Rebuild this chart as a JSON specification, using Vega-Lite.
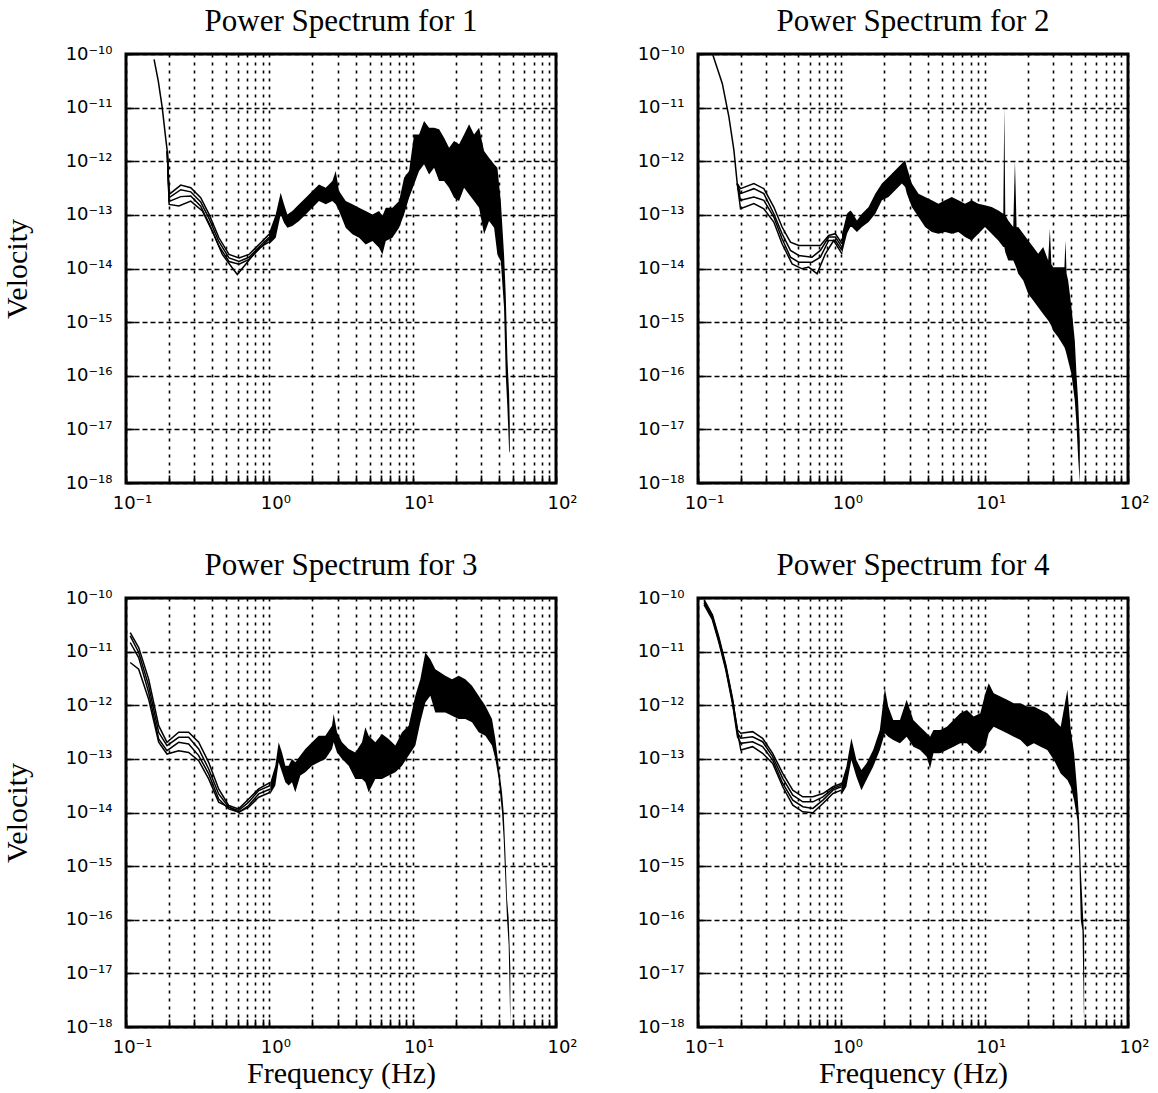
{
"$schema": "https://vega.github.io/schema/vega-lite/v6.json",
"padding": {"left": 0, "top": 4, "right": 5, "bottom": 3},
"background": "white",
"datasets": {
"d": [
{"p":1,"s":"a","f":0.157,"v":7.96e-11},{"p":1,"s":"a","f":0.168,"v":3.13e-11},{"p":1,"s":"a","f":0.179,"v":1.0e-11},{"p":1,"s":"a","f":0.189,"v":2.75e-12},{"p":1,"s":"a","f":0.194,"v":1.55e-12},
{"p":1,"s":"a","f":0.2,"v":2.41e-13},{"p":1,"s":"a","f":0.241,"v":3.60e-13},{"p":1,"s":"a","f":0.283,"v":3.21e-13},{"p":1,"s":"a","f":0.332,"v":2.09e-13},{"p":1,"s":"a","f":0.38,"v":1.02e-13},{"p":1,"s":"a","f":0.445,"v":3.74e-14},{"p":1,"s":"a","f":0.523,"v":1.83e-14},{"p":1,"s":"a","f":0.615,"v":1.58e-14},{"p":1,"s":"a","f":0.721,"v":1.83e-14},{"p":1,"s":"a","f":0.847,"v":2.81e-14},{"p":1,"s":"a","f":0.995,"v":4.33e-14},
{"p":1,"s":"b","f":0.194,"v":1.55e-12},{"p":1,"s":"b","f":0.2,"v":2.09e-13},{"p":1,"s":"b","f":0.241,"v":2.95e-13},{"p":1,"s":"b","f":0.283,"v":2.69e-13},{"p":1,"s":"b","f":0.332,"v":1.74e-13},{"p":1,"s":"b","f":0.38,"v":8.51e-14},{"p":1,"s":"b","f":0.445,"v":3.16e-14},{"p":1,"s":"b","f":0.523,"v":1.58e-14},{"p":1,"s":"b","f":0.615,"v":1.35e-14},{"p":1,"s":"b","f":0.721,"v":1.62e-14},{"p":1,"s":"b","f":0.847,"v":2.51e-14},{"p":1,"s":"b","f":0.995,"v":3.80e-14},
{"p":1,"s":"c","f":0.194,"v":1.55e-12},{"p":1,"s":"c","f":0.2,"v":1.78e-13},{"p":1,"s":"c","f":0.241,"v":2.19e-13},{"p":1,"s":"c","f":0.283,"v":2.24e-13},{"p":1,"s":"c","f":0.332,"v":1.45e-13},{"p":1,"s":"c","f":0.38,"v":6.92e-14},{"p":1,"s":"c","f":0.445,"v":2.63e-14},{"p":1,"s":"c","f":0.523,"v":1.35e-14},{"p":1,"s":"c","f":0.615,"v":1.20e-14},{"p":1,"s":"c","f":0.721,"v":1.48e-14},{"p":1,"s":"c","f":0.847,"v":2.29e-14},{"p":1,"s":"c","f":0.995,"v":3.55e-14},
{"p":1,"s":"d","f":0.194,"v":1.55e-12},{"p":1,"s":"d","f":0.2,"v":1.57e-13},{"p":1,"s":"d","f":0.234,"v":1.46e-13},{"p":1,"s":"d","f":0.283,"v":1.81e-13},{"p":1,"s":"d","f":0.341,"v":1.18e-13},{"p":1,"s":"d","f":0.40,"v":4.99e-14},{"p":1,"s":"d","f":0.47,"v":1.83e-14},{"p":1,"s":"d","f":0.552,"v":1.02e-14},{"p":1,"s":"d","f":0.598,"v":7.74e-15},{"p":1,"s":"d","f":0.684,"v":1.20e-14},{"p":1,"s":"d","f":0.847,"v":2.44e-14},{"p":1,"s":"d","f":1.02,"v":3.24e-14},
{"p":1,"s":"band","f":0.995,"v":4.65e-14,"v2":2.81e-14},{"p":1,"s":"band","f":1.108,"v":1.02e-13,"v2":3.74e-14},{"p":1,"s":"band","f":1.20,"v":2.59e-13,"v2":1.02e-13},{"p":1,"s":"band","f":1.266,"v":1.57e-13,"v2":7.13e-14},{"p":1,"s":"band","f":1.336,"v":1.02e-13,"v2":5.75e-14},{"p":1,"s":"band","f":1.447,"v":1.18e-13,"v2":6.18e-14},{"p":1,"s":"band","f":1.612,"v":1.57e-13,"v2":7.66e-14},{"p":1,"s":"band","f":1.794,"v":2.09e-13,"v2":1.02e-13},{"p":1,"s":"band","f":1.997,"v":2.78e-13,"v2":1.36e-13},{"p":1,"s":"band","f":2.22,"v":3.70e-13,"v2":1.81e-13},{"p":1,"s":"band","f":2.474,"v":3.21e-13,"v2":1.57e-13},{"p":1,"s":"band","f":2.754,"v":4.28e-13,"v2":1.81e-13},{"p":1,"s":"band","f":2.905,"v":6.56e-13,"v2":1.57e-13},{"p":1,"s":"band","f":3.064,"v":2.78e-13,"v2":1.18e-13},{"p":1,"s":"band","f":3.41,"v":1.81e-13,"v2":5.75e-14},{"p":1,"s":"band","f":3.80,"v":1.57e-13,"v2":4.33e-14},{"p":1,"s":"band","f":4.23,"v":1.36e-13,"v2":3.74e-14},{"p":1,"s":"band","f":4.70,"v":1.18e-13,"v2":2.81e-14},{"p":1,"s":"band","f":5.24,"v":1.02e-13,"v2":3.24e-14},{"p":1,"s":"band","f":5.83,"v":1.18e-13,"v2":2.44e-14},{"p":1,"s":"band","f":6.15,"v":9.55e-14,"v2":1.83e-14},{"p":1,"s":"band","f":6.49,"v":1.36e-13,"v2":3.24e-14},{"p":1,"s":"band","f":7.22,"v":1.36e-13,"v2":3.74e-14},{"p":1,"s":"band","f":8.04,"v":1.81e-13,"v2":5.75e-14},{"p":1,"s":"band","f":8.71,"v":4.93e-13,"v2":1.02e-13},{"p":1,"s":"band","f":9.44,"v":6.56e-13,"v2":2.09e-13},{"p":1,"s":"band","f":10.23,"v":3.17e-12,"v2":3.70e-13},{"p":1,"s":"band","f":11.08,"v":3.17e-12,"v2":6.56e-13},{"p":1,"s":"band","f":12.01,"v":5.62e-12,"v2":8.75e-13},{"p":1,"s":"band","f":13.02,"v":4.23e-12,"v2":5.69e-13},{"p":1,"s":"band","f":14.11,"v":4.23e-12,"v2":7.57e-13},{"p":1,"s":"band","f":15.29,"v":3.94e-12,"v2":4.28e-13},{"p":1,"s":"band","f":16.56,"v":2.75e-12,"v2":4.28e-13},{"p":1,"s":"band","f":17.95,"v":1.79e-12,"v2":3.21e-13},{"p":1,"s":"band","f":19.45,"v":2.38e-12,"v2":2.09e-13},{"p":1,"s":"band","f":21.08,"v":2.07e-12,"v2":1.81e-13},{"p":1,"s":"band","f":22.84,"v":3.17e-12,"v2":3.21e-13},{"p":1,"s":"band","f":24.75,"v":4.88e-12,"v2":2.41e-13},{"p":1,"s":"band","f":26.82,"v":3.17e-12,"v2":1.81e-13},{"p":1,"s":"band","f":29.07,"v":4.23e-12,"v2":1.36e-13},{"p":1,"s":"band","f":31.5,"v":1.55e-12,"v2":4.33e-14},{"p":1,"s":"band","f":34.1,"v":1.16e-12,"v2":7.66e-14},{"p":1,"s":"band","f":37.0,"v":8.75e-13,"v2":5.75e-14},{"p":1,"s":"band","f":39.0,"v":7.57e-13,"v2":1.83e-14},{"p":1,"s":"band","f":41.2,"v":1.81e-13,"v2":1.37e-14},{"p":1,"s":"band","f":43.4,"v":1.83e-14,"v2":1.85e-15},{"p":1,"s":"band","f":44.6,"v":3.28e-15,"v2":1.06e-16},{"p":1,"s":"band","f":45.8,"v":2.16e-16,"v2":2.52e-17},{"p":1,"s":"band","f":47.1,"v":4.47e-17,"v2":3.92e-18},{"p":1,"s":"band","f":47.6,"v":1.23e-17,"v2":3.65e-18},

{"p":2,"s":"a","f":0.127,"v":9.57e-11},{"p":2,"s":"a","f":0.1477,"v":2.83e-11},{"p":2,"s":"a","f":0.1643,"v":6.75e-12},{"p":2,"s":"a","f":0.178,"v":1.61e-12},{"p":2,"s":"a","f":0.1878,"v":3.83e-13},
{"p":2,"s":"a","f":0.198,"v":3.08e-13},{"p":2,"s":"a","f":0.2454,"v":3.83e-13},{"p":2,"s":"a","f":0.288,"v":3.08e-13},{"p":2,"s":"a","f":0.338,"v":1.40e-13},{"p":2,"s":"a","f":0.386,"v":5.93e-14},{"p":2,"s":"a","f":0.4416,"v":3.10e-14},{"p":2,"s":"a","f":0.5047,"v":2.69e-14},{"p":2,"s":"a","f":0.6248,"v":2.69e-14},{"p":2,"s":"a","f":0.7142,"v":2.69e-14},{"p":2,"s":"a","f":0.8162,"v":4.14e-14},{"p":2,"s":"a","f":0.9083,"v":4.45e-14},{"p":2,"s":"a","f":1.011,"v":2.89e-14},
{"p":2,"s":"b","f":0.1878,"v":3.83e-13},{"p":2,"s":"b","f":0.198,"v":2.49e-13},{"p":2,"s":"b","f":0.2454,"v":3.08e-13},{"p":2,"s":"b","f":0.288,"v":2.49e-13},{"p":2,"s":"b","f":0.338,"v":1.05e-13},{"p":2,"s":"b","f":0.386,"v":4.45e-14},{"p":2,"s":"b","f":0.4416,"v":2.17e-14},{"p":2,"s":"b","f":0.5047,"v":1.75e-14},{"p":2,"s":"b","f":0.6248,"v":1.63e-14},{"p":2,"s":"b","f":0.7142,"v":2.17e-14},{"p":2,"s":"b","f":0.8162,"v":3.85e-14},{"p":2,"s":"b","f":0.9083,"v":3.85e-14},{"p":2,"s":"b","f":1.011,"v":2.51e-14},
{"p":2,"s":"c","f":0.1878,"v":3.83e-13},{"p":2,"s":"c","f":0.198,"v":1.87e-13},{"p":2,"s":"c","f":0.2454,"v":2.15e-13},{"p":2,"s":"c","f":0.288,"v":1.87e-13},{"p":2,"s":"c","f":0.338,"v":9.12e-14},{"p":2,"s":"c","f":0.386,"v":3.59e-14},{"p":2,"s":"c","f":0.4416,"v":1.63e-14},{"p":2,"s":"c","f":0.5047,"v":1.31e-14},{"p":2,"s":"c","f":0.6248,"v":1.31e-14},{"p":2,"s":"c","f":0.7142,"v":1.63e-14},{"p":2,"s":"c","f":0.8162,"v":3.33e-14},{"p":2,"s":"c","f":0.9083,"v":3.33e-14},{"p":2,"s":"c","f":1.011,"v":2.17e-14},
{"p":2,"s":"d","f":0.1878,"v":3.83e-13},{"p":2,"s":"d","f":0.198,"v":1.30e-13},{"p":2,"s":"d","f":0.2454,"v":1.62e-13},{"p":2,"s":"d","f":0.288,"v":1.30e-13},{"p":2,"s":"d","f":0.338,"v":7.35e-14},{"p":2,"s":"d","f":0.386,"v":2.89e-14},{"p":2,"s":"d","f":0.4535,"v":1.22e-14},{"p":2,"s":"d","f":0.5324,"v":9.86e-15},{"p":2,"s":"d","f":0.5923,"v":1.06e-14},{"p":2,"s":"d","f":0.677,"v":7.94e-15},{"p":2,"s":"d","f":0.7738,"v":1.88e-14},{"p":2,"s":"d","f":0.8842,"v":3.33e-14},{"p":2,"s":"d","f":1.011,"v":1.88e-14},
{"p":2,"s":"band","f":1.011,"v":4.45e-14,"v2":1.88e-14},{"p":2,"s":"band","f":1.095,"v":1.05e-13,"v2":4.45e-14},{"p":2,"s":"band","f":1.155,"v":1.21e-13,"v2":5.93e-14},{"p":2,"s":"band","f":1.186,"v":1.13e-13,"v2":5.93e-14},{"p":2,"s":"band","f":1.285,"v":7.89e-14,"v2":4.78e-14},{"p":2,"s":"band","f":1.393,"v":1.05e-13,"v2":5.93e-14},{"p":2,"s":"band","f":1.55,"v":1.40e-13,"v2":7.35e-14},{"p":2,"s":"band","f":1.725,"v":2.49e-13,"v2":1.05e-13},{"p":2,"s":"band","f":1.919,"v":3.83e-13,"v2":1.87e-13},{"p":2,"s":"band","f":2.136,"v":5.09e-13,"v2":2.15e-13},{"p":2,"s":"band","f":2.376,"v":6.79e-13,"v2":2.87e-13},{"p":2,"s":"band","f":2.644,"v":9.04e-13,"v2":3.83e-13},{"p":2,"s":"band","f":2.79,"v":1.04e-12,"v2":3.31e-13},{"p":2,"s":"band","f":2.865,"v":7.83e-13,"v2":2.49e-13},{"p":2,"s":"band","f":3.104,"v":3.83e-13,"v2":1.40e-13},{"p":2,"s":"band","f":3.454,"v":2.49e-13,"v2":9.12e-14},{"p":2,"s":"band","f":3.843,"v":2.15e-13,"v2":5.93e-14},{"p":2,"s":"band","f":4.277,"v":1.87e-13,"v2":4.78e-14},{"p":2,"s":"band","f":4.759,"v":1.62e-13,"v2":4.45e-14},{"p":2,"s":"band","f":5.295,"v":1.87e-13,"v2":4.78e-14},{"p":2,"s":"band","f":5.892,"v":2.15e-13,"v2":4.45e-14},{"p":2,"s":"band","f":6.557,"v":1.87e-13,"v2":4.78e-14},{"p":2,"s":"band","f":7.296,"v":1.62e-13,"v2":3.85e-14},{"p":2,"s":"band","f":8.118,"v":1.87e-13,"v2":3.33e-14},{"p":2,"s":"band","f":9.034,"v":1.62e-13,"v2":4.45e-14},{"p":2,"s":"band","f":10.05,"v":1.51e-13,"v2":5.93e-14},{"p":2,"s":"band","f":11.19,"v":1.40e-13,"v2":4.45e-14},{"p":2,"s":"band","f":12.45,"v":1.21e-13,"v2":3.33e-14},{"p":2,"s":"band","f":13.49,"v":1.05e-13,"v2":2.51e-14},{"p":2,"s":"band","f":13.71,"v":1.04e-11,"v2":2.51e-14},{"p":2,"s":"band","f":13.93,"v":1.0e-13,"v2":2.0e-14},{"p":2,"s":"band","f":14.61,"v":7.89e-14,"v2":1.41e-14},{"p":2,"s":"band","f":15.83,"v":5.93e-14,"v2":1.41e-14},{"p":2,"s":"band","f":16.26,"v":1.04e-12,"v2":1.2e-14},{"p":2,"s":"band","f":16.7,"v":5.9e-14,"v2":1.0e-14},{"p":2,"s":"band","f":17.15,"v":5.93e-14,"v2":7.94e-15},{"p":2,"s":"band","f":18.59,"v":4.45e-14,"v2":5.97e-15},{"p":2,"s":"band","f":20.14,"v":3.33e-14,"v2":3.36e-15},{"p":2,"s":"band","f":21.82,"v":2.51e-14,"v2":2.52e-15},{"p":2,"s":"band","f":23.63,"v":1.88e-14,"v2":1.89e-15},{"p":2,"s":"band","f":25.6,"v":2.51e-14,"v2":1.42e-15},{"p":2,"s":"band","f":27.75,"v":1.41e-14,"v2":1.07e-15},{"p":2,"s":"band","f":28.5,"v":5.51e-14,"v2":9.5e-16},{"p":2,"s":"band","f":29.2,"v":1.2e-14,"v2":8.5e-16},{"p":2,"s":"band","f":30.06,"v":1.06e-14,"v2":6.93e-16},{"p":2,"s":"band","f":32.57,"v":1.06e-14,"v2":5.21e-16},{"p":2,"s":"band","f":36.0,"v":1.06e-14,"v2":3.39e-16},{"p":2,"s":"band","f":36.63,"v":3.33e-14,"v2":3.0e-16},{"p":2,"s":"band","f":37.3,"v":8.0e-15,"v2":2.5e-16},{"p":2,"s":"band","f":38.23,"v":5.97e-15,"v2":1.91e-16},{"p":2,"s":"band","f":40.33,"v":1.89e-15,"v2":1.07e-16},{"p":2,"s":"band","f":42.55,"v":4.51e-16,"v2":3.41e-17},{"p":2,"s":"band","f":43.7,"v":1.07e-16,"v2":1.25e-17},{"p":2,"s":"band","f":44.87,"v":3.41e-17,"v2":2.98e-18},{"p":2,"s":"band","f":46.1,"v":6.1e-18,"v2":1.01e-18},

{"p":3,"s":"a","f":0.107,"v":2.26e-11},{"p":3,"s":"a","f":0.1226,"v":1.19e-11},{"p":3,"s":"a","f":0.1439,"v":3.07e-12},{"p":3,"s":"a","f":0.169,"v":4.16e-13},{"p":3,"s":"a","f":0.1932,"v":2.04e-13},{"p":3,"s":"a","f":0.233,"v":3.13e-13},{"p":3,"s":"a","f":0.2736,"v":3.13e-13},{"p":3,"s":"a","f":0.3214,"v":2.04e-13},{"p":3,"s":"a","f":0.3774,"v":8.63e-14},{"p":3,"s":"a","f":0.4431,"v":2.75e-14},{"p":3,"s":"a","f":0.5203,"v":1.35e-14},{"p":3,"s":"a","f":0.6109,"v":1.17e-14},{"p":3,"s":"a","f":0.7173,"v":1.79e-14},{"p":3,"s":"a","f":0.8425,"v":2.75e-14},{"p":3,"s":"a","f":1.016,"v":3.66e-14},
{"p":3,"s":"b","f":0.107,"v":1.96e-11},{"p":3,"s":"b","f":0.1226,"v":9.62e-12},{"p":3,"s":"b","f":0.1439,"v":2.31e-12},{"p":3,"s":"b","f":0.169,"v":3.13e-13},{"p":3,"s":"b","f":0.1932,"v":1.77e-13},{"p":3,"s":"b","f":0.233,"v":2.52e-13},{"p":3,"s":"b","f":0.2736,"v":2.52e-13},{"p":3,"s":"b","f":0.3214,"v":1.53e-13},{"p":3,"s":"b","f":0.3774,"v":6.49e-14},{"p":3,"s":"b","f":0.4431,"v":2.22e-14},{"p":3,"s":"b","f":0.5203,"v":1.26e-14},{"p":3,"s":"b","f":0.6109,"v":1.09e-14},{"p":3,"s":"b","f":0.7173,"v":1.56e-14},{"p":3,"s":"b","f":0.8425,"v":2.56e-14},{"p":3,"s":"b","f":1.016,"v":3.18e-14},
{"p":3,"s":"c","f":0.107,"v":1.48e-11},{"p":3,"s":"c","f":0.1226,"v":7.76e-12},{"p":3,"s":"c","f":0.1439,"v":1.73e-12},{"p":3,"s":"c","f":0.169,"v":2.35e-13},{"p":3,"s":"c","f":0.1932,"v":1.42e-13},{"p":3,"s":"c","f":0.233,"v":2.04e-13},{"p":3,"s":"c","f":0.2736,"v":1.90e-13},{"p":3,"s":"c","f":0.3214,"v":1.15e-13},{"p":3,"s":"c","f":0.3774,"v":5.24e-14},{"p":3,"s":"c","f":0.4431,"v":1.79e-14},{"p":3,"s":"c","f":0.5203,"v":1.17e-14},{"p":3,"s":"c","f":0.6109,"v":1.01e-14},{"p":3,"s":"c","f":0.7173,"v":1.35e-14},{"p":3,"s":"c","f":0.8425,"v":2.22e-14},{"p":3,"s":"c","f":1.016,"v":2.75e-14},
{"p":3,"s":"d","f":0.107,"v":6.26e-12},{"p":3,"s":"d","f":0.1226,"v":4.71e-12},{"p":3,"s":"d","f":0.1439,"v":1.30e-12},{"p":3,"s":"d","f":0.169,"v":2.04e-13},{"p":3,"s":"d","f":0.1932,"v":1.23e-13},{"p":3,"s":"d","f":0.233,"v":1.42e-13},{"p":3,"s":"d","f":0.2736,"v":1.32e-13},{"p":3,"s":"d","f":0.3214,"v":9.27e-14},{"p":3,"s":"d","f":0.3774,"v":4.23e-14},{"p":3,"s":"d","f":0.4431,"v":1.56e-14},{"p":3,"s":"d","f":0.5203,"v":1.26e-14},{"p":3,"s":"d","f":0.6109,"v":1.01e-14},{"p":3,"s":"d","f":0.7173,"v":1.26e-14},{"p":3,"s":"d","f":0.8425,"v":1.93e-14},{"p":3,"s":"d","f":1.016,"v":2.39e-14},
{"p":3,"s":"band","f":1.016,"v":3.66e-14,"v2":2.22e-14},{"p":3,"s":"band","f":1.101,"v":7.48e-14,"v2":3.18e-14},{"p":3,"s":"band","f":1.162,"v":2.04e-13,"v2":8.63e-14},{"p":3,"s":"band","f":1.226,"v":1.32e-13,"v2":5.62e-14},{"p":3,"s":"band","f":1.293,"v":7.48e-14,"v2":3.66e-14},{"p":3,"s":"band","f":1.364,"v":7.48e-14,"v2":3.18e-14},{"p":3,"s":"band","f":1.439,"v":9.95e-14,"v2":3.66e-14},{"p":3,"s":"band","f":1.518,"v":8.63e-14,"v2":2.39e-14},{"p":3,"s":"band","f":1.645,"v":1.15e-13,"v2":4.88e-14},{"p":3,"s":"band","f":1.783,"v":1.53e-13,"v2":5.62e-14},{"p":3,"s":"band","f":1.985,"v":2.04e-13,"v2":7.48e-14},{"p":3,"s":"band","f":2.21,"v":2.71e-13,"v2":8.63e-14},{"p":3,"s":"band","f":2.459,"v":2.71e-13,"v2":9.95e-14},{"p":3,"s":"band","f":2.737,"v":4.16e-13,"v2":1.53e-13},{"p":3,"s":"band","f":2.811,"v":6.85e-13,"v2":2.04e-13},{"p":3,"s":"band","f":2.966,"v":3.13e-13,"v2":1.32e-13},{"p":3,"s":"band","f":3.214,"v":2.04e-13,"v2":9.95e-14},{"p":3,"s":"band","f":3.577,"v":1.53e-13,"v2":7.48e-14},{"p":3,"s":"band","f":3.981,"v":1.32e-13,"v2":4.23e-14},{"p":3,"s":"band","f":4.431,"v":2.04e-13,"v2":4.23e-14},{"p":3,"s":"band","f":4.676,"v":3.87e-13,"v2":3.66e-14},{"p":3,"s":"band","f":4.932,"v":2.71e-13,"v2":2.39e-14},{"p":3,"s":"band","f":5.49,"v":2.04e-13,"v2":4.23e-14},{"p":3,"s":"band","f":6.109,"v":2.91e-13,"v2":4.23e-14},{"p":3,"s":"band","f":6.8,"v":2.35e-13,"v2":4.88e-14},{"p":3,"s":"band","f":7.57,"v":1.77e-13,"v2":5.62e-14},{"p":3,"s":"band","f":8.426,"v":3.13e-13,"v2":7.48e-14},{"p":3,"s":"band","f":9.378,"v":4.16e-13,"v2":1.15e-13},{"p":3,"s":"band","f":10.44,"v":1.50e-12,"v2":1.77e-13},{"p":3,"s":"band","f":11.31,"v":3.07e-12,"v2":4.80e-13},{"p":3,"s":"band","f":12.26,"v":9.62e-12,"v2":1.13e-12},{"p":3,"s":"band","f":13.28,"v":7.23e-12,"v2":1.50e-12},{"p":3,"s":"band","f":14.39,"v":4.71e-12,"v2":7.36e-13},{"p":3,"s":"band","f":15.6,"v":4.08e-12,"v2":7.36e-13},{"p":3,"s":"band","f":16.9,"v":3.54e-12,"v2":7.36e-13},{"p":3,"s":"band","f":18.81,"v":3.07e-12,"v2":6.38e-13},{"p":3,"s":"band","f":20.94,"v":3.54e-12,"v2":5.53e-13},{"p":3,"s":"band","f":23.3,"v":3.07e-12,"v2":5.53e-13},{"p":3,"s":"band","f":25.94,"v":2.31e-12,"v2":4.80e-13},{"p":3,"s":"band","f":28.87,"v":1.50e-12,"v2":3.13e-13},{"p":3,"s":"band","f":32.14,"v":9.80e-13,"v2":2.71e-13},{"p":3,"s":"band","f":35.77,"v":5.53e-13,"v2":1.77e-13},{"p":3,"s":"band","f":37.74,"v":2.35e-13,"v2":9.95e-14},{"p":3,"s":"band","f":39.81,"v":7.48e-14,"v2":4.23e-14},{"p":3,"s":"band","f":42.01,"v":2.39e-14,"v2":1.01e-14},{"p":3,"s":"band","f":43.15,"v":1.01e-14,"v2":3.24e-15},{"p":3,"s":"band","f":44.32,"v":1.83e-15,"v2":5.83e-16},{"p":3,"s":"band","f":45.52,"v":2.48e-16,"v2":1.05e-16},{"p":3,"s":"band","f":46.76,"v":1.05e-16,"v2":3.36e-17},{"p":3,"s":"band","f":48.02,"v":1.23e-17,"v2":1.01e-18},

{"p":4,"s":"a","f":0.1102,"v":8.67e-11},{"p":4,"s":"a","f":0.126,"v":4.54e-11},{"p":4,"s":"a","f":0.1403,"v":1.66e-11},{"p":4,"s":"a","f":0.1563,"v":5.28e-12},{"p":4,"s":"a","f":0.174,"v":1.26e-12},{"p":4,"s":"a","f":0.1886,"v":3.46e-13},{"p":4,"s":"a","f":0.1991,"v":3.00e-13},{"p":4,"s":"a","f":0.2403,"v":3.22e-13},{"p":4,"s":"a","f":0.2824,"v":2.42e-13},{"p":4,"s":"a","f":0.3319,"v":1.27e-13},{"p":4,"s":"a","f":0.3901,"v":5.36e-14},{"p":4,"s":"a","f":0.4584,"v":2.61e-14},{"p":4,"s":"a","f":0.5385,"v":1.96e-14},{"p":4,"s":"a","f":0.6329,"v":1.96e-14},{"p":4,"s":"a","f":0.7439,"v":2.26e-14},{"p":4,"s":"a","f":0.8741,"v":3.02e-14},{"p":4,"s":"a","f":1.0,"v":3.48e-14},
{"p":4,"s":"b","f":0.1102,"v":8.07e-11},{"p":4,"s":"b","f":0.126,"v":4.23e-11},{"p":4,"s":"b","f":0.1403,"v":1.55e-11},{"p":4,"s":"b","f":0.1563,"v":4.92e-12},{"p":4,"s":"b","f":0.174,"v":1.17e-12},{"p":4,"s":"b","f":0.1886,"v":3.00e-13},{"p":4,"s":"b","f":0.1991,"v":2.42e-13},{"p":4,"s":"b","f":0.2403,"v":2.59e-13},{"p":4,"s":"b","f":0.2824,"v":2.09e-13},{"p":4,"s":"b","f":0.3319,"v":1.10e-13},{"p":4,"s":"b","f":0.3901,"v":4.33e-14},{"p":4,"s":"b","f":0.4584,"v":2.11e-14},{"p":4,"s":"b","f":0.5385,"v":1.58e-14},{"p":4,"s":"b","f":0.6329,"v":1.58e-14},{"p":4,"s":"b","f":0.7439,"v":1.96e-14},{"p":4,"s":"b","f":0.8741,"v":2.81e-14},{"p":4,"s":"b","f":1.0,"v":3.24e-14},
{"p":4,"s":"c","f":0.1102,"v":7.5e-11},{"p":4,"s":"c","f":0.126,"v":3.94e-11},{"p":4,"s":"c","f":0.1403,"v":1.44e-11},{"p":4,"s":"c","f":0.1563,"v":4.57e-12},{"p":4,"s":"c","f":0.174,"v":1.09e-12},{"p":4,"s":"c","f":0.1886,"v":2.59e-13},{"p":4,"s":"c","f":0.1991,"v":1.95e-13},{"p":4,"s":"c","f":0.2403,"v":2.09e-13},{"p":4,"s":"c","f":0.2824,"v":1.69e-13},{"p":4,"s":"c","f":0.3319,"v":9.51e-14},{"p":4,"s":"c","f":0.3901,"v":3.48e-14},{"p":4,"s":"c","f":0.4584,"v":1.70e-14},{"p":4,"s":"c","f":0.5385,"v":1.28e-14},{"p":4,"s":"c","f":0.6329,"v":1.19e-14},{"p":4,"s":"c","f":0.7439,"v":1.70e-14},{"p":4,"s":"c","f":0.8741,"v":2.61e-14},{"p":4,"s":"c","f":1.0,"v":3.02e-14},
{"p":4,"s":"d","f":0.1102,"v":9.3e-11},{"p":4,"s":"d","f":0.126,"v":4.88e-11},{"p":4,"s":"d","f":0.1403,"v":1.79e-11},{"p":4,"s":"d","f":0.1563,"v":5.68e-12},{"p":4,"s":"d","f":0.174,"v":1.35e-12},{"p":4,"s":"d","f":0.1886,"v":3.22e-13},{"p":4,"s":"d","f":0.1991,"v":1.46e-13},{"p":4,"s":"d","f":0.2403,"v":1.69e-13},{"p":4,"s":"d","f":0.2824,"v":1.27e-13},{"p":4,"s":"d","f":0.3319,"v":8.24e-14},{"p":4,"s":"d","f":0.3901,"v":3.02e-14},{"p":4,"s":"d","f":0.4584,"v":1.37e-14},{"p":4,"s":"d","f":0.5385,"v":1.03e-14},{"p":4,"s":"d","f":0.6329,"v":9.86e-15},{"p":4,"s":"d","f":0.7439,"v":1.47e-14},{"p":4,"s":"d","f":0.8741,"v":2.26e-14},{"p":4,"s":"d","f":1.0,"v":2.61e-14},
{"p":4,"s":"band","f":1.0,"v":3.48e-14,"v2":2.11e-14},{"p":4,"s":"band","f":1.084,"v":7.14e-14,"v2":3.02e-14},{"p":4,"s":"band","f":1.175,"v":2.42e-13,"v2":9.51e-14},{"p":4,"s":"band","f":1.274,"v":9.51e-14,"v2":4.65e-14},{"p":4,"s":"band","f":1.381,"v":6.18e-14,"v2":2.61e-14},{"p":4,"s":"band","f":1.497,"v":8.24e-14,"v2":4.02e-14},{"p":4,"s":"band","f":1.667,"v":1.46e-13,"v2":7.14e-14},{"p":4,"s":"band","f":1.856,"v":3.46e-13,"v2":1.46e-13},{"p":4,"s":"band","f":2.012,"v":2.08e-12,"v2":3.00e-13},{"p":4,"s":"band","f":2.124,"v":9.44e-13,"v2":2.59e-13},{"p":4,"s":"band","f":2.302,"v":5.32e-13,"v2":2.25e-13},{"p":4,"s":"band","f":2.564,"v":5.32e-13,"v2":1.95e-13},{"p":4,"s":"band","f":2.855,"v":1.26e-12,"v2":2.59e-13},{"p":4,"s":"band","f":3.18,"v":5.32e-13,"v2":1.69e-13},{"p":4,"s":"band","f":3.541,"v":3.99e-13,"v2":1.46e-13},{"p":4,"s":"band","f":3.943,"v":3.00e-13,"v2":1.10e-13},{"p":4,"s":"band","f":4.161,"v":2.59e-13,"v2":6.64e-14},{"p":4,"s":"band","f":4.391,"v":3.46e-13,"v2":1.27e-13},{"p":4,"s":"band","f":4.89,"v":3.46e-13,"v2":1.27e-13},{"p":4,"s":"band","f":5.445,"v":3.99e-13,"v2":1.46e-13},{"p":4,"s":"band","f":6.064,"v":5.32e-13,"v2":1.69e-13},{"p":4,"s":"band","f":6.752,"v":7.08e-13,"v2":1.95e-13},{"p":4,"s":"band","f":7.519,"v":8.18e-13,"v2":1.95e-13},{"p":4,"s":"band","f":8.374,"v":6.14e-13,"v2":1.46e-13},{"p":4,"s":"band","f":9.324,"v":7.08e-13,"v2":1.27e-13},{"p":4,"s":"band","f":10.11,"v":1.67e-12,"v2":1.69e-13},{"p":4,"s":"band","f":10.67,"v":2.58e-12,"v2":3.00e-13},{"p":4,"s":"band","f":11.56,"v":1.67e-12,"v2":3.99e-13},{"p":4,"s":"band","f":12.88,"v":1.45e-12,"v2":3.46e-13},{"p":4,"s":"band","f":14.34,"v":1.26e-12,"v2":3.00e-13},{"p":4,"s":"band","f":15.97,"v":1.09e-12,"v2":2.59e-13},{"p":4,"s":"band","f":17.78,"v":1.09e-12,"v2":2.25e-13},{"p":4,"s":"band","f":19.81,"v":9.44e-13,"v2":1.69e-13},{"p":4,"s":"band","f":22.05,"v":9.44e-13,"v2":1.95e-13},{"p":4,"s":"band","f":24.56,"v":8.18e-13,"v2":1.69e-13},{"p":4,"s":"band","f":27.35,"v":7.08e-13,"v2":1.46e-13},{"p":4,"s":"band","f":30.45,"v":5.32e-13,"v2":9.51e-14},{"p":4,"s":"band","f":33.92,"v":3.99e-13,"v2":5.36e-14},{"p":4,"s":"band","f":37.77,"v":1.94e-12,"v2":4.02e-14},{"p":4,"s":"band","f":39.86,"v":3.46e-13,"v2":3.02e-14},{"p":4,"s":"band","f":42.06,"v":1.27e-13,"v2":1.70e-14},{"p":4,"s":"band","f":44.38,"v":2.26e-14,"v2":7.19e-15},{"p":4,"s":"band","f":45.6,"v":7.19e-15,"v2":1.71e-15},{"p":4,"s":"band","f":46.84,"v":8.36e-16,"v2":9.73e-17},{"p":4,"s":"band","f":48.11,"v":1.99e-16,"v2":6.32e-17},{"p":4,"s":"band","f":49.41,"v":4.74e-17,"v2":1.0e-18}
]
},
"data": {"name": "d"},
"columns": 2,
"bounds": "flush",
"spacing": {"row": 115, "column": 142},
"concat": [
{
"title": "Power Spectrum for 1",
"width": 430, "height": 429,
"transform": [{"filter": "datum.p == 1"}],
"encoding": {
"x": {"field": "f", "type": "quantitative", "scale": {"type": "log", "domain": [0.1, 100]}, "axis": {"title": null, "values": [0.1,0.2,0.3,0.4,0.5,0.6,0.7,0.8,0.9,1,2,3,4,5,6,7,8,9,10,20,30,40,50,60,70,80,90,100], "labelExpr": "abs(log(datum.value)/LN10-round(log(datum.value)/LN10))<0.01 ? ['10⁻¹','10⁰','10¹','10²'][round(log(datum.value)/LN10)+1] : ''"}},
"y": {"field": "v", "type": "quantitative", "scale": {"type": "log", "domain": [1e-18, 1e-10]}, "axis": {"title": "Velocity", "values": [1e-18,1e-17,1e-16,1e-15,1e-14,1e-13,1e-12,1e-11,1e-10], "labelExpr": "['10⁻¹⁸','10⁻¹⁷','10⁻¹⁶','10⁻¹⁵','10⁻¹⁴','10⁻¹³','10⁻¹²','10⁻¹¹','10⁻¹⁰'][round(log(datum.value)/LN10)+18]"}}
},
"layer": [
{"transform": [{"filter": "datum.s == 'band'"}], "mark": {"type": "area", "color": "black", "clip": true}, "encoding": {"y2": {"field": "v2"}}},
{"transform": [{"filter": "datum.s != 'band'"}], "mark": {"type": "line", "color": "black", "strokeWidth": 1.5, "clip": true}, "encoding": {"detail": {"field": "s"}}}
]
},
{
"title": "Power Spectrum for 2",
"width": 430, "height": 429,
"transform": [{"filter": "datum.p == 2"}],
"encoding": {
"x": {"field": "f", "type": "quantitative", "scale": {"type": "log", "domain": [0.1, 100]}, "axis": {"title": null, "values": [0.1,0.2,0.3,0.4,0.5,0.6,0.7,0.8,0.9,1,2,3,4,5,6,7,8,9,10,20,30,40,50,60,70,80,90,100], "labelExpr": "abs(log(datum.value)/LN10-round(log(datum.value)/LN10))<0.01 ? ['10⁻¹','10⁰','10¹','10²'][round(log(datum.value)/LN10)+1] : ''"}},
"y": {"field": "v", "type": "quantitative", "scale": {"type": "log", "domain": [1e-18, 1e-10]}, "axis": {"title": null, "values": [1e-18,1e-17,1e-16,1e-15,1e-14,1e-13,1e-12,1e-11,1e-10], "labelExpr": "['10⁻¹⁸','10⁻¹⁷','10⁻¹⁶','10⁻¹⁵','10⁻¹⁴','10⁻¹³','10⁻¹²','10⁻¹¹','10⁻¹⁰'][round(log(datum.value)/LN10)+18]"}}
},
"layer": [
{"transform": [{"filter": "datum.s == 'band'"}], "mark": {"type": "area", "color": "black", "clip": true}, "encoding": {"y2": {"field": "v2"}}},
{"transform": [{"filter": "datum.s != 'band'"}], "mark": {"type": "line", "color": "black", "strokeWidth": 1.5, "clip": true}, "encoding": {"detail": {"field": "s"}}}
]
},
{
"title": "Power Spectrum for 3",
"width": 430, "height": 429,
"transform": [{"filter": "datum.p == 3"}],
"encoding": {
"x": {"field": "f", "type": "quantitative", "scale": {"type": "log", "domain": [0.1, 100]}, "axis": {"title": "Frequency (Hz)", "values": [0.1,0.2,0.3,0.4,0.5,0.6,0.7,0.8,0.9,1,2,3,4,5,6,7,8,9,10,20,30,40,50,60,70,80,90,100], "labelExpr": "abs(log(datum.value)/LN10-round(log(datum.value)/LN10))<0.01 ? ['10⁻¹','10⁰','10¹','10²'][round(log(datum.value)/LN10)+1] : ''"}},
"y": {"field": "v", "type": "quantitative", "scale": {"type": "log", "domain": [1e-18, 1e-10]}, "axis": {"title": "Velocity", "values": [1e-18,1e-17,1e-16,1e-15,1e-14,1e-13,1e-12,1e-11,1e-10], "labelExpr": "['10⁻¹⁸','10⁻¹⁷','10⁻¹⁶','10⁻¹⁵','10⁻¹⁴','10⁻¹³','10⁻¹²','10⁻¹¹','10⁻¹⁰'][round(log(datum.value)/LN10)+18]"}}
},
"layer": [
{"transform": [{"filter": "datum.s == 'band'"}], "mark": {"type": "area", "color": "black", "clip": true}, "encoding": {"y2": {"field": "v2"}}},
{"transform": [{"filter": "datum.s != 'band'"}], "mark": {"type": "line", "color": "black", "strokeWidth": 1.5, "clip": true}, "encoding": {"detail": {"field": "s"}}}
]
},
{
"title": "Power Spectrum for 4",
"width": 430, "height": 429,
"transform": [{"filter": "datum.p == 4"}],
"encoding": {
"x": {"field": "f", "type": "quantitative", "scale": {"type": "log", "domain": [0.1, 100]}, "axis": {"title": "Frequency (Hz)", "values": [0.1,0.2,0.3,0.4,0.5,0.6,0.7,0.8,0.9,1,2,3,4,5,6,7,8,9,10,20,30,40,50,60,70,80,90,100], "labelExpr": "abs(log(datum.value)/LN10-round(log(datum.value)/LN10))<0.01 ? ['10⁻¹','10⁰','10¹','10²'][round(log(datum.value)/LN10)+1] : ''"}},
"y": {"field": "v", "type": "quantitative", "scale": {"type": "log", "domain": [1e-18, 1e-10]}, "axis": {"title": null, "values": [1e-18,1e-17,1e-16,1e-15,1e-14,1e-13,1e-12,1e-11,1e-10], "labelExpr": "['10⁻¹⁸','10⁻¹⁷','10⁻¹⁶','10⁻¹⁵','10⁻¹⁴','10⁻¹³','10⁻¹²','10⁻¹¹','10⁻¹⁰'][round(log(datum.value)/LN10)+18]"}}
},
"layer": [
{"transform": [{"filter": "datum.s == 'band'"}], "mark": {"type": "area", "color": "black", "clip": true}, "encoding": {"y2": {"field": "v2"}}},
{"transform": [{"filter": "datum.s != 'band'"}], "mark": {"type": "line", "color": "black", "strokeWidth": 1.5, "clip": true}, "encoding": {"detail": {"field": "s"}}}
]
}
],
"config": {
"view": {"stroke": "black", "strokeWidth": 3},
"font": "Liberation Serif",
"axis": {"domain": false, "grid": true, "gridColor": "black", "gridOpacity": 1, "gridWidth": 1.6, "ticks": true, "tickColor": "black", "tickSize": -8, "tickWidth": 1.6, "labelFont": "DejaVu Sans", "labelFontSize": 18, "labelColor": "black", "titleFont": "Liberation Serif", "titleFontSize": 30, "titleFontWeight": "normal", "titleColor": "black", "labelOverlap": false, "labelFlush": false, "labelBound": false},
"axisX": {"gridDash": [3, 5], "labelPadding": 19, "labelOffset": 6, "titlePadding": 2},
"axisY": {"gridDash": [5, 3], "labelPadding": 22, "titlePadding": 33},
"title": {"font": "Liberation Serif", "fontSize": 31, "fontWeight": "normal", "color": "black", "offset": 7, "baseline": "alphabetic"}
}
}
